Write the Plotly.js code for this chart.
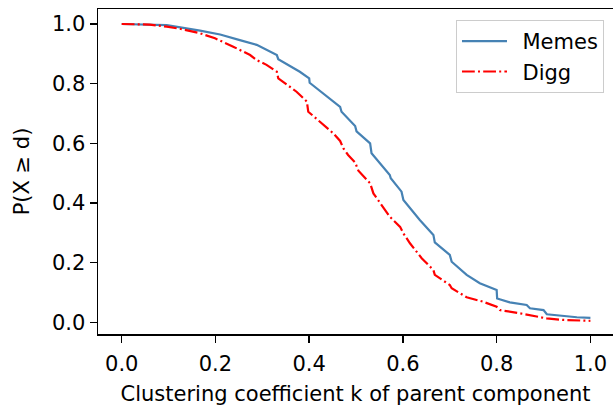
<!DOCTYPE html>
<html>
<head>
<meta charset="utf-8">
<script src="https://cdn.plot.ly/plotly-3.0.1.min.js"></script>
<style>html,body{margin:0;padding:0;background:#fff;}#chart{width:613px;height:406px;}</style>
</head>
<body>
<div id="chart"></div>
<script>
const memesK = [0, 0.05, 0.096, 0.167, 0.210, 0.252, 0.288, 0.331, 0.334, 0.380, 0.400, 0.401, 0.430, 0.466, 0.469, 0.498, 0.501, 0.530, 0.533, 0.572, 0.574, 0.597, 0.601, 0.636, 0.665, 0.668, 0.700, 0.704, 0.736, 0.764, 0.800, 0.801, 0.828, 0.864, 0.871, 0.900, 0.907, 0.935, 0.971, 1.0];
const memesP = [1.0, 0.999, 0.996, 0.978, 0.965, 0.946, 0.930, 0.896, 0.882, 0.840, 0.818, 0.803, 0.768, 0.722, 0.706, 0.658, 0.640, 0.600, 0.567, 0.494, 0.483, 0.438, 0.410, 0.343, 0.293, 0.268, 0.226, 0.203, 0.159, 0.131, 0.108, 0.080, 0.067, 0.058, 0.047, 0.041, 0.027, 0.022, 0.017, 0.015];
const diggK = [0, 0.060, 0.096, 0.124, 0.167, 0.199, 0.238, 0.274, 0.288, 0.309, 0.331, 0.334, 0.373, 0.391, 0.395, 0.398, 0.427, 0.451, 0.466, 0.473, 0.483, 0.498, 0.505, 0.530, 0.537, 0.572, 0.594, 0.601, 0.615, 0.640, 0.665, 0.668, 0.700, 0.704, 0.736, 0.771, 0.800, 0.807, 0.850, 0.871, 0.907, 0.942, 1.0];
const diggP = [1.0, 0.998, 0.991, 0.984, 0.969, 0.952, 0.924, 0.896, 0.879, 0.863, 0.840, 0.818, 0.773, 0.745, 0.740, 0.706, 0.667, 0.634, 0.608, 0.583, 0.561, 0.536, 0.508, 0.466, 0.432, 0.354, 0.320, 0.298, 0.265, 0.215, 0.175, 0.159, 0.125, 0.114, 0.084, 0.069, 0.052, 0.041, 0.030, 0.024, 0.013, 0.008, 0.005];
const seriesNames = ['Memes', 'Digg'];
const xTicks = [0, 0.2, 0.4, 0.6, 0.8, 1.0];
const yTicks = [0, 0.2, 0.4, 0.6, 0.8, 1.0];

const FONT = 'DejaVu Sans, sans-serif';
const FS = 21;
const traces = [
  {x: memesK, y: memesP, name: '\u2002' + seriesNames[0], mode: 'lines', type: 'scatter',
   line: {color: '#4682b4', width: 2.2}},
  {x: diggK, y: diggP, name: '\u2002' + seriesNames[1], mode: 'lines', type: 'scatter',
   line: {color: '#ff0000', width: 2.2, dash: '12.8px,3.2px,2px,3.2px'}}
];
const layout = {
  width: 613, height: 406,
  margin: {l: 98, r: 0, t: 9, b: 72},
  paper_bgcolor: '#fff', plot_bgcolor: '#fff',
  font: {family: FONT, size: FS, color: '#000'},
  showlegend: true,
  legend: {x: 0.9825, xanchor: 'right', y: 0.966, yanchor: 'top', itemwidth: 45,
           bgcolor: 'rgba(255,255,255,0.8)', bordercolor: '#cccccc', borderwidth: 1,
           font: {family: FONT, size: FS, color: '#000'}},
  xaxis: {range: [-0.0506, 1.0482], tickvals: xTicks, tickformat: '.1f',
          showline: true, linecolor: '#000', linewidth: 1.5, mirror: true,
          ticks: 'outside', ticklen: 7, tickwidth: 1.5, tickcolor: '#000',
          ticklabelstandoff: 3,
          showgrid: false, zeroline: false,
          title: {text: 'Clustering coefficient k of parent component', font: {family: FONT, size: FS}, standoff: 12}},
  yaxis: {range: [-0.0392, 1.0503], tickvals: yTicks, tickformat: '.1f',
          showline: true, linecolor: '#000', linewidth: 1.5, mirror: false,
          ticks: 'outside', ticklen: 7, tickwidth: 1.5, tickcolor: '#000',
          showgrid: false, zeroline: false,
          title: {text: 'P(X ≥ d)', font: {family: FONT, size: FS}, standoff: 16}}
};
Plotly.newPlot('chart', traces, layout, {displayModeBar: false, staticPlot: true});
</script>
</body>
</html>
